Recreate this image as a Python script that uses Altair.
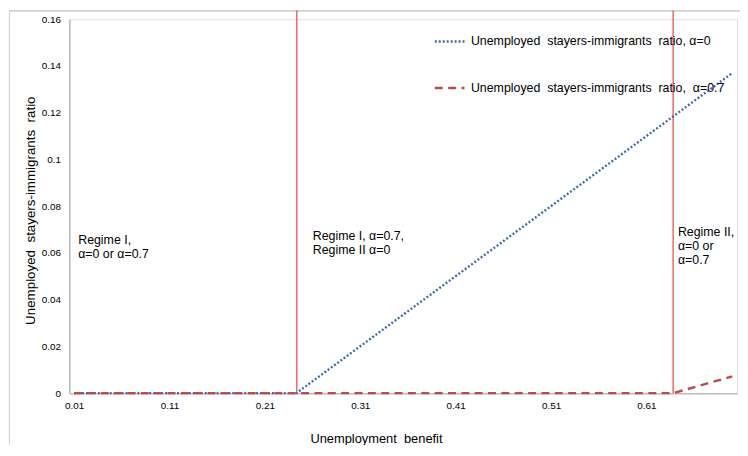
import altair as alt
import pandas as pd

# ---- data ----
NB = "\u00a0"
series_names = ["Unemployed" + NB + " stayers-immigrants" + NB + " ratio, α=0",
                "Unemployed" + NB + " stayers-immigrants" + NB + " ratio," + NB + " α=0.7"]
blue_x = [0.01, 0.243, 0.70]
blue_y = [0.0, 0.0, 0.137]
red_x = [0.01, 0.638, 0.70]
red_y = [0.0, 0.0, 0.0072]

regime_bounds = [0.2435, 0.638]
bound_top = 0.1638

x_ticks = [0.01, 0.11, 0.21, 0.31, 0.41, 0.51, 0.61]
y_ticks = [0, 0.02, 0.04, 0.06, 0.08, 0.1, 0.12, 0.14, 0.16]

ann_text = ["Regime I,\nα=0 or α=0.7",
            "Regime I, α=0.7,\nRegime II α=0",
            "Regime II,\nα=0 or\nα=0.7"]
ann_x = [0.0143, 0.2602, 0.643]
ann_y = [0.0639, 0.0656, 0.0673]

FONT = "Liberation Sans"
BLUE = "#3E6DAF"
RED = "#BE4B48"

lines = pd.DataFrame(
    [{"x": a, "y": b, "series": series_names[0], "o": i} for i, (a, b) in enumerate(zip(blue_x, blue_y))]
    + [{"x": a, "y": b, "series": series_names[1], "o": i} for i, (a, b) in enumerate(zip(red_x, red_y))]
)
bounds = pd.DataFrame({"x": regime_bounds, "y0": [0, 0], "y1": [bound_top, bound_top]})
ann = pd.DataFrame({"t": ann_text, "x": ann_x, "y": ann_y})

xscale = alt.Scale(domain=[0.005, 0.705], nice=False, zero=False)
yscale = alt.Scale(domain=[0, 0.16], nice=False)

xaxis = alt.Axis(values=x_ticks, format=".2f", title="Unemployment" + NB + " benefit",
                 grid=False, ticks=False, domainColor="#BDBDBD", domainWidth=1.5,
                 labelFontSize=10, labelPadding=7, labelColor="#000000",
                 labelFont=FONT, titleFont=FONT, titleFontSize=13, titleFontWeight="normal",
                 titleX=310, titleY=50, titleBaseline="alphabetic", titleAnchor="middle",
                 titleAlign="center", titleColor="#000000", labelFlush=False)
yaxis = alt.Axis(values=y_ticks, format="~g",
                 title="Unemployed" + NB + " stayers-immigrants" + NB + " ratio",
                 grid=False, ticks=False, domainColor="#BDBDBD", domainWidth=1.5,
                 labelFontSize=10, labelPadding=9, labelColor="#000000",
                 labelFont=FONT, titleFont=FONT, titleFontSize=13.5, titleFontWeight="normal",
                 titleX=-35, titleY=193, titleAngle=270, titleAlign="center",
                 titleBaseline="alphabetic", titleColor="#000000")

base_lines = alt.Chart(lines).mark_line(strokeWidth=2.4, clip=False, strokeCap="butt").encode(
    x=alt.X("x:Q", scale=xscale, axis=xaxis),
    y=alt.Y("y:Q", scale=yscale, axis=yaxis),
    order="o:Q",
    color=alt.Color("series:N", scale=alt.Scale(domain=series_names, range=[BLUE, RED]),
                    legend=alt.Legend(title=None, orient="none", legendX=368, legendY=6,
                                      symbolType="stroke", symbolSize=900, symbolStrokeWidth=2.4,
                                      labelFont=FONT, labelFontSize=12.5, labelColor="#000000",
                                      rowPadding=24, labelOffset=5, padding=0, labelLimit=400)),
    strokeDash=alt.StrokeDash("series:N", scale=alt.Scale(domain=series_names, range=[[2, 2], [8, 5.5]]),
                              legend=None),
)

bound_rules = alt.Chart(bounds).mark_rule(color="#F04040", strokeWidth=1.2, clip=False).encode(
    x="x:Q", y="y0:Q", y2="y1:Q"
)

annotations = alt.Chart(ann).mark_text(align="left", baseline="alphabetic", font=FONT,
                                       fontSize=12.5, lineBreak="\n", lineHeight=14,
                                       color="#000000").encode(
    x="x:Q", y="y:Q", text="t:N"
)

frame_left = alt.Chart(ann).mark_rule(color="#CFCFCF", strokeWidth=1).encode(
    x=alt.value(-60.5), y=alt.value(-9), y2=alt.value(500)
)
frame_top = alt.Chart(ann).mark_rule(color="#CFCFCF", strokeWidth=1).encode(
    x=alt.value(-61), x2=alt.value(700), y=alt.value(-8.5)
)

chart = alt.layer(frame_left, frame_top, bound_rules, base_lines, annotations).properties(
    width=675, height=378,
    autosize=alt.AutoSizeParams(type="none"),
    padding={"left": 62, "top": 9, "right": 3, "bottom": 50},
).configure_view(stroke=None).configure(background="white")

chart.save("out.html", embed_options={"renderer": "svg", "actions": False})
